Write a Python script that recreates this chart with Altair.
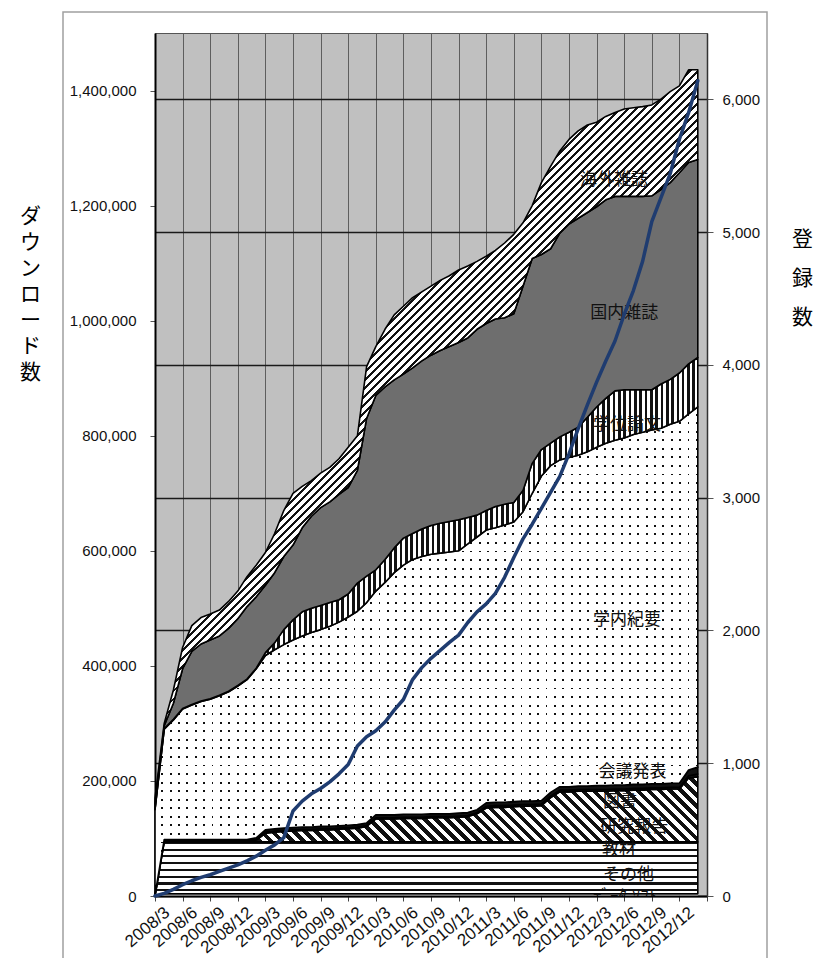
import json
import altair as alt
import pandas as pd

# ---------------- data ----------------
MONTHS = [
    "2008/3", "2008/4", "2008/5", "2008/6", "2008/7", "2008/8", "2008/9", "2008/10", "2008/11", "2008/12",
    "2009/1", "2009/2", "2009/3", "2009/4", "2009/5", "2009/6", "2009/7", "2009/8", "2009/9", "2009/10",
    "2009/11", "2009/12", "2010/1", "2010/2", "2010/3", "2010/4", "2010/5", "2010/6", "2010/7", "2010/8",
    "2010/9", "2010/10", "2010/11", "2010/12", "2011/1", "2011/2", "2011/3", "2011/4", "2011/5", "2011/6",
    "2011/7", "2011/8", "2011/9", "2011/10", "2011/11", "2011/12", "2012/1", "2012/2", "2012/3", "2012/4",
    "2012/5", "2012/6", "2012/7", "2012/8", "2012/9", "2012/10", "2012/11", "2012/12", "2013/1", "2013/2",
]
TICK_LABELS = [
    "2008/3", "2008/6", "2008/9", "2008/12", "2009/3", "2009/6", "2009/9", "2009/12",
    "2010/3", "2010/6", "2010/9", "2010/12", "2011/3", "2011/6", "2011/9", "2011/12",
    "2012/3", "2012/6", "2012/9", "2012/12", "",
]

# cumulative downloads per category, in thousands (bottom of the stack first)
DATA_SOFT = [0, 1, 1, 1, 1, 1, 1, 1, 1, 1,
             1, 1, 1, 1, 1, 1, 1, 1, 1, 1,
             1, 1, 1, 1, 1, 1, 1, 1, 1, 1,
             1, 1, 1, 1, 1, 1, 1, 1, 1, 1,
             1, 1, 1, 1, 1, 1, 1, 1, 1, 1,
             1, 1, 1, 1, 1, 1, 1, 1, 1, 1]
KYOZAI = [0, 3, 3, 3, 3, 3, 3, 3, 3, 3,
          3, 3, 3, 3, 3, 3, 3, 3, 3, 3,
          3, 3, 3, 3, 3, 3, 3, 3, 3, 3,
          3, 3, 3, 3, 3, 3, 3, 3, 3, 3,
          3, 3, 3, 3, 3, 3, 3, 3, 3, 3,
          3, 3, 3, 3, 3, 3, 3, 3, 3, 3]
SONOTA = [0, 90, 90, 90, 90, 90, 90, 90, 90, 90,
          90, 90, 90, 90, 90, 90, 90, 90, 90, 90,
          90, 90, 90, 90, 90, 90, 90, 90, 90, 90,
          90, 90, 90, 90, 90, 90, 90, 90, 90, 90,
          90, 90, 90, 90, 90, 90, 90, 90, 90, 90,
          90, 90, 90, 90, 90, 90, 90, 90, 90, 90]
KENKYU = [0, 0, 0, 0, 0, 0, 0, 0, 0, 0,
          0, 3, 15, 17, 18, 19, 20, 20, 21, 21,
          22, 23, 24, 27, 40, 40, 40, 41, 41, 41,
          42, 42, 42, 43, 44, 49, 59, 60, 60, 61,
          62, 62, 63, 77, 87, 87, 88, 88, 88, 88,
          89, 89, 90, 90, 91, 91, 92, 92, 111, 113]
TOSHO = [1, 1, 1, 1, 1, 1, 1, 1, 1, 1,
         1, 1, 2, 2, 2, 2, 2, 2, 2, 2,
         2, 2, 2, 2, 2, 2, 2, 2, 2, 2,
         2, 2, 2, 2, 2, 2, 3, 3, 3, 3,
         3, 3, 3, 3, 3, 3, 3, 3, 3, 3,
         3, 3, 3, 3, 3, 3, 3, 3, 4, 5]
KAIGI = [1, 3, 3, 3, 3, 3, 3, 3, 3, 3,
         3, 3, 4, 4, 4, 4, 4, 4, 4, 4,
         4, 4, 4, 4, 5, 5, 5, 5, 5, 5,
         5, 5, 5, 5, 5, 5, 6, 6, 6, 6,
         6, 6, 6, 6, 6, 6, 6, 6, 7, 7,
         7, 7, 7, 7, 7, 7, 7, 7, 10, 12]
GAKUNAI = [148, 192, 208, 227, 234, 240, 244, 250, 257, 267,
           278, 294, 303, 311, 319, 326, 332, 338, 342, 348,
           354, 362, 371, 383, 389, 404, 421, 433, 443, 448,
           451, 453, 455, 456, 467, 474, 474, 477, 482, 486,
           503, 535, 564, 568, 568, 572, 575, 581, 588, 595,
           599, 603, 608, 612, 615, 618, 624, 629, 619, 626]
GAKUI = [1, 1, 1, 1, 1, 1, 1, 1, 1, 1,
         1, 1, 5, 12, 26, 35, 42, 42, 42, 41,
         39, 40, 49, 46, 37, 40, 43, 47, 45, 48,
         50, 52, 53, 54, 46, 38, 34, 37, 36, 34,
         37, 52, 46, 39, 40, 44, 49, 60, 70, 78,
         86, 84, 78, 74, 70, 77, 78, 84, 87, 86]
KOKUNAI = [9, 5, 28, 69, 92, 99, 102, 103, 109, 116,
           126, 124, 117, 122, 127, 130, 146, 160, 170, 175,
           183, 185, 196, 274, 303, 300, 292, 285, 288, 292,
           296, 300, 304, 308, 312, 323, 325, 326, 324, 328,
           355, 356, 339, 338, 354, 362, 363, 356, 348, 345,
           338, 336, 336, 336, 337, 338, 342, 348, 350, 344]
KAIGAI = [10, 4, 23, 37, 45, 46, 45, 45, 47, 48,
          52, 55, 57, 68, 80, 90, 72, 62, 60, 60,
          62, 70, 60, 90, 85, 100, 113, 118, 122, 120,
          120, 122, 123, 126, 125, 118, 117, 119, 130, 138,
          110, 92, 125, 143, 143, 147, 152, 152, 147, 145,
          146, 152, 154, 156, 158, 157, 158, 151, 161, 156]

# registered items (right axis)
REGISTERED = [0, 20, 50, 85, 115, 140, 160, 185, 210, 235,
              265, 300, 345, 385, 440, 640, 715, 770, 810, 860,
              920, 990, 1130, 1200, 1245, 1310, 1400, 1480, 1630, 1720,
              1790, 1850, 1910, 1965, 2060, 2140, 2200, 2280, 2400, 2550,
              2690, 2800, 2920, 3040, 3160, 3330, 3520, 3700, 3870, 4030,
              4180, 4380, 4560, 4780, 5080, 5260, 5440, 5700, 5900, 6140]

# in-chart series labels: name, x (month index), y (thousands)
LABEL_NAMES = ["海外雑誌", "国内雑誌", "学位論文", "学内紀要", "会議発表",
               "図書", "研究報告", "教材", "その他", "ﾃﾞｰﾀ,ｿﾌﾄ"]
LABEL_X = [46.2, 47.3, 47.6, 47.6, 48.2, 48.7, 48.4, 48.6, 48.7, 47.6]
LABEL_Y = [1245, 1014, 819, 480, 216, 163, 120, 80, 36, -2]

SERIES = [
    ("ﾃﾞｰﾀ,ｿﾌﾄ", DATA_SOFT), ("教材", KYOZAI), ("その他", SONOTA),
    ("研究報告", KENKYU), ("図書", TOSHO), ("会議発表", KAIGI),
    ("学内紀要", GAKUNAI), ("学位論文", GAKUI), ("国内雑誌", KOKUNAI),
    ("海外雑誌", KAIGAI),
]

# ---------------- layout ----------------
PLOT_W, PLOT_H = 552, 863
Y_MAX = 1500000
R_MAX = 6500
N_X = 60

rows = []
cum = [0] * len(MONTHS)
for name, vals in SERIES:
    assert len(vals) == len(MONTHS), name
    for i, v in enumerate(vals):
        lo = cum[i]
        hi = lo + v * 1000
        rows.append({"series": name, "idx": i, "month": MONTHS[i], "lo": lo, "hi": hi})
        cum[i] = hi
stack = pd.DataFrame(rows)
assert len(REGISTERED) == len(MONTHS)
reg_df = pd.DataFrame({"idx": list(range(len(MONTHS))), "month": MONTHS, "reg": REGISTERED})
lab_df = pd.DataFrame({"name": LABEL_NAMES, "idx": LABEL_X, "v": [y * 1000 for y in LABEL_Y]})


def bbox(name, start=0):
    d = stack[(stack.series == name) & (stack.idx >= start)]
    w = (d.idx.max() - d.idx.min()) * PLOT_W / N_X
    h = (d.hi.max() - d.lo.min()) * PLOT_H / Y_MAX
    return w, h


def stripe_stops(n, on_frac, c_on, c_off):
    n = max(int(n), 1)
    stops = []
    for i in range(n):
        a, b, c = i / n, (i + on_frac) / n, (i + 1) / n
        stops += [
            alt.GradientStop(offset=round(a, 6), color=c_on),
            alt.GradientStop(offset=round(b, 6), color=c_on),
            alt.GradientStop(offset=round(b, 6), color=c_off),
            alt.GradientStop(offset=round(c, 6), color=c_off),
        ]
    return stops


def grad(stops, x1, y1, x2, y2):
    return alt.LinearGradient(gradient="linear", stops=stops,
                              x1=round(x1, 6), y1=round(y1, 6), x2=round(x2, 6), y2=round(y2, 6))


def diag(w, h, period, on_frac, c_on, c_off, backslash=True):
    k = h / w
    s = (1 + k) / (1 + k * k)
    n = round((w + h) / period)
    stops = stripe_stops(n, on_frac, c_on, c_off)
    if backslash:
        return grad(stops, 0, 1, s, 1 - s * k)
    return grad(stops, 0, 0, s, s * k)


WHITE = "#ffffff"
BLACK = "#111111"
CLEAR = "rgba(255,255,255,0)"

LABEL_EXPR = json.dumps(TICK_LABELS, ensure_ascii=False) + "[round(datum.value / 3)]"

x_enc = alt.X(
    "idx:Q",
    scale=alt.Scale(domain=[0, N_X], nice=False, zero=False),
    axis=alt.Axis(values=list(range(0, N_X + 1, 3)), labelExpr=LABEL_EXPR, title=None,
                  grid=True, gridColor="#5e5e5e", gridWidth=1,
                  tickSize=5, tickColor="#444", domainColor="#000", domainWidth=2,
                  labelAngle=-40, labelAlign="right", labelBaseline="top",
                  labelFontSize=17, labelOffset=7, labelPadding=3,
                  labelFlush=False, labelOverlap=False),
)

LEFT_AXIS = alt.Axis(values=list(range(0, 1400001, 200000)), format=",d",
                     title=list("ダウンロード数"), titleAngle=0, titleX=-125, titleY=172,
                     titleAlign="center", titleBaseline="top", titleLineHeight=26,
                     titleFont="Noto Sans CJK JP", titleFontSize=21, titleFontWeight="normal",
                     titleColor="#000", grid=False, tickSize=5, tickColor="#555",
                     domainColor="#000", domainWidth=2, labelPadding=14, labelFontSize=15,
                     labelFlush=False)
LEFT_SCALE = alt.Scale(domain=[0, Y_MAX], nice=False, zero=False)


def y_left(field):
    return alt.Y(field, scale=LEFT_SCALE, axis=LEFT_AXIS)


def area(name, fill, stroke=True, start=0, opacity=1.0):
    kw = dict(fill=fill, fillOpacity=opacity, interpolate="linear")
    if stroke:
        kw.update(stroke="black", strokeWidth=1.6, strokeJoin="round")
    else:
        kw.update(strokeWidth=0)
    return (alt.Chart(stack)
            .transform_filter((alt.datum.series == name) & (alt.datum.idx >= start))
            .mark_area(**kw)
            .encode(x=x_enc, y=y_left("hi:Q"), y2="lo:Q"))


layers = []

# outer chart-area frame
frame = (alt.Chart(pd.DataFrame({"a": [0]}))
         .mark_rect(fillOpacity=0, fill="white", stroke="#a0a0a0", strokeWidth=1.5)
         .encode(x=alt.value(-92), x2=alt.value(612), y=alt.value(-21), y2=alt.value(1000)))
layers.append(frame)

# wave-patterned bottom series
layers.append(area("ﾃﾞｰﾀ,ｿﾌﾄ", "#8c8c8c", stroke=False))
layers.append(area("教材", "#8c8c8c", stroke=False))
w, h = bbox("その他")
layers.append(area("その他", grad(stripe_stops(round(h / 6.7), 0.3, BLACK, WHITE), 0, 0, 0, 1)))

# diagonal hatch
w, h = bbox("研究報告", start=10)
layers.append(area("研究報告", diag(w, h, 11, 0.5, BLACK, WHITE, backslash=True), start=10))

# black thin bands
layers.append(area("図書", BLACK))
layers.append(area("会議発表", BLACK))

# dotted series: black base, then two white layers with transparent gaps -> dots
w, h = bbox("学内紀要")
layers.append(area("学内紀要", BLACK, stroke=False))
layers.append(area("学内紀要", grad(stripe_stops(round(h / 8.5), 1 - 1.9 / 8.5, WHITE, CLEAR), 0, 0, 0, 1), stroke=False))
layers.append(area("学内紀要", grad(stripe_stops(round(w / 8.3), 1 - 1.9 / 8.3, WHITE, CLEAR), 0, 0, 1, 0)))

# vertical stripes
w, h = bbox("学位論文")
layers.append(area("学位論文", grad(stripe_stops(round(w / 5.3), 0.5, BLACK, WHITE), 0, 0, 1, 0)))

# dense dark dither -> solid gray
layers.append(area("国内雑誌", "#6e6e6e"))

# light tile pattern
w, h = bbox("海外雑誌")
layers.append(area("海外雑誌", diag(w, h, 8, 0.34, BLACK, WHITE, backslash=False)))

# in-chart labels
labels = (alt.Chart(lab_df)
          .mark_text(align="left", baseline="middle", font="Noto Sans CJK JP",
                     fontSize=17, color="#111", clip=True)
          .encode(x=x_enc, y=y_left("v:Q"), text="name:N"))
layers.append(labels)

downloads = alt.layer(*layers)

line = (alt.Chart(reg_df)
        .mark_line(color="#1f3c70", strokeWidth=3.5, strokeJoin="round", strokeCap="round")
        .encode(
            x=x_enc,
            y=alt.Y("reg:Q", scale=alt.Scale(domain=[0, R_MAX], nice=False, zero=False),
                    axis=alt.Axis(orient="right", values=list(range(0, 6001, 1000)), format=",d",
                                  title=list("登録数"), titleAngle=0, titleX=95, titleY=195,
                                  titleAlign="center", titleBaseline="top", titleLineHeight=39,
                                  titleFont="Noto Sans CJK JP", titleFontSize=21,
                                  titleFontWeight="normal", titleColor="#000",
                                  grid=True, gridColor="#1a1a1a", gridWidth=1.5,
                                  tickSize=6, tickColor="#555", domainColor="#333",
                                  domainWidth=1.5, labelPadding=9, labelFontSize=15,
                                  labelFlush=False)),
        ))

chart = (alt.layer(downloads, line)
         .resolve_scale(y="independent")
         .properties(width=PLOT_W, height=PLOT_H,
                     autosize=alt.AutoSizeParams(type="none"),
                     padding={"left": 147, "top": 25, "right": 108, "bottom": 62})
         .configure_view(fill="#c0c0c0", stroke="#555555", strokeWidth=1)
         .configure_axis(labelFont="Liberation Sans", labelColor="#111"))

chart.save("out.html", embed_options={"renderer": "svg", "actions": False})
